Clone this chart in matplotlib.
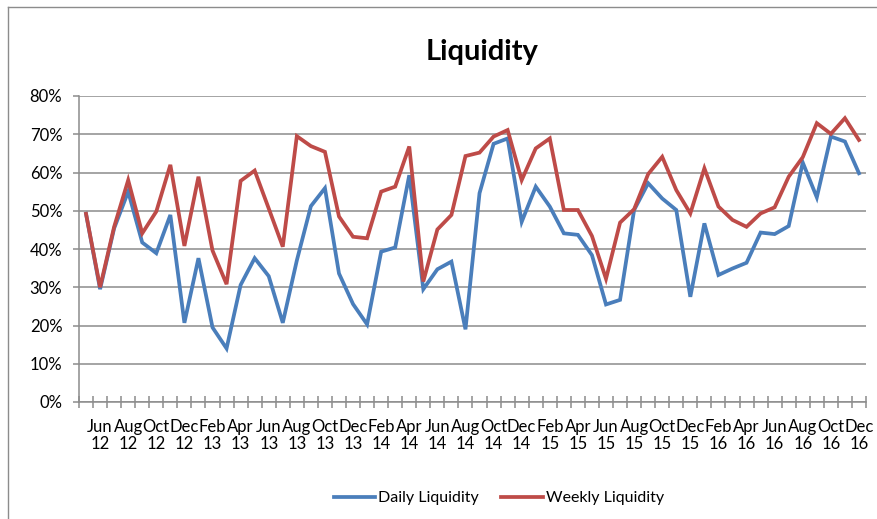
import matplotlib
matplotlib.use("Agg")
import matplotlib.pyplot as plt
from matplotlib.lines import Line2D
from matplotlib.ticker import FixedLocator, PercentFormatter

plt.rcParams['font.family'] = ['Lato', 'DejaVu Sans']

months = ["May", "Jun", "Jul", "Aug", "Sep", "Oct", "Nov", "Dec",
          "Jan", "Feb", "Mar", "Apr"]
start_year = 12
n_points = 56
categories = []
for k in range(n_points):
    m = (4 + k) % 12
    y = start_year + (4 + k) // 12
    categories.append(f"{months[(m - 4) % 12]}\n{y}")

daily = [49.2, 29.5, 45.4, 55.0, 41.7, 38.9, 48.9, 20.7, 37.6, 19.5,
         14.0, 30.6, 37.6, 32.9, 20.7, 37.0, 51.2, 55.9, 33.6, 25.6,
         20.3, 39.3, 40.4, 59.3, 29.5, 34.7, 36.7, 19.0, 54.6, 67.5,
         68.9, 47.1, 56.3, 51.1, 44.1, 43.7, 38.4, 25.5, 26.7, 50.2,
         57.2, 53.2, 50.2, 27.5, 46.7, 33.2, 34.9, 36.4, 44.3, 43.9,
         46.0, 62.6, 53.5, 69.4, 68.1, 59.8]
weekly = [49.2, 30.0, 45.8, 58.0, 44.1, 49.8, 62.0, 40.8, 58.9, 39.6,
          30.8, 57.8, 60.5, 50.6, 40.6, 69.5, 66.9, 65.4, 48.5, 43.2,
          42.8, 55.0, 56.3, 66.8, 31.5, 45.1, 48.9, 64.3, 65.2, 69.4,
          71.1, 58.0, 66.3, 68.9, 50.2, 50.2, 43.4, 32.2, 46.9, 50.4,
          59.6, 64.1, 55.4, 49.3, 61.1, 51.1, 47.6, 45.8, 49.3, 50.9,
          58.9, 64.0, 72.9, 70.1, 74.2, 68.5]
y_ticks = [0, 10, 20, 30, 40, 50, 60, 70, 80]

W, H = 878, 519
fig = plt.figure(figsize=(W / 100, H / 100), dpi=100)
ax = fig.add_axes([79 / W, 1 - 402 / H, (866 - 79) / W, (402 - 96) / H])

x = list(range(len(categories)))
grid_c = '#8C8C8C'
ax.plot(x, daily, color='#4A7EBB', lw=2.7, label='Daily Liquidity',
        solid_joinstyle='miter', zorder=3)
ax.plot(x, weekly, color='#BE4B48', lw=2.7, label='Weekly Liquidity',
        solid_joinstyle='miter', zorder=3)

ax.set_xlim(-0.5, len(categories) - 0.5)
ax.set_ylim(0, 80)
ax.set_yticks(y_ticks)
ax.yaxis.set_major_formatter(PercentFormatter(decimals=0))
ax.yaxis.grid(True, color=grid_c, lw=1.1)
ax.set_axisbelow(True)

ax.xaxis.set_major_locator(FixedLocator([i - 0.5 for i in range(len(categories) + 1)]))
ax.xaxis.set_major_formatter(plt.NullFormatter())
lab_idx = [i for i in x if i % 2 == 1]
ax.xaxis.set_minor_locator(FixedLocator(lab_idx))
ax.set_xticklabels([categories[i] for i in lab_idx], minor=True)
ax.tick_params(axis='x', which='major', direction='inout', length=8,
               color=grid_c, width=1.1)
ax.tick_params(axis='x', which='minor', length=0, pad=12, labelsize=12,
               labelcolor='black')
for t in ax.xaxis.get_minorticklabels():
    t.set_linespacing(1.1)
ax.tick_params(axis='y', direction='out', length=4, color=grid_c, width=1.1,
               labelsize=12, pad=8)

for s in ['top', 'right']:
    ax.spines[s].set_visible(False)
for s in ['left', 'bottom']:
    ax.spines[s].set_color(grid_c)
    ax.spines[s].set_linewidth(1.1)

fig.text(482 / W, 1 - 52 / H, 'Liquidity', ha='center', va='center',
         fontsize=21, fontweight='bold')

fig.legend(loc='center', bbox_to_anchor=(499 / W, 1 - 498 / H), ncol=2,
           frameon=False, fontsize=11.5, handlelength=2.6, handletextpad=0.2,
           columnspacing=1.4)

fig.add_artist(Line2D([8 / W, 8 / W], [0, 1 - 7 / H], transform=fig.transFigure,
                      color='#8C8C8C', lw=1.0))
fig.add_artist(Line2D([8 / W, 1], [1 - 7 / H, 1 - 7 / H], transform=fig.transFigure,
                      color='#8C8C8C', lw=1.0))

fig.savefig('out.png', dpi=100)
